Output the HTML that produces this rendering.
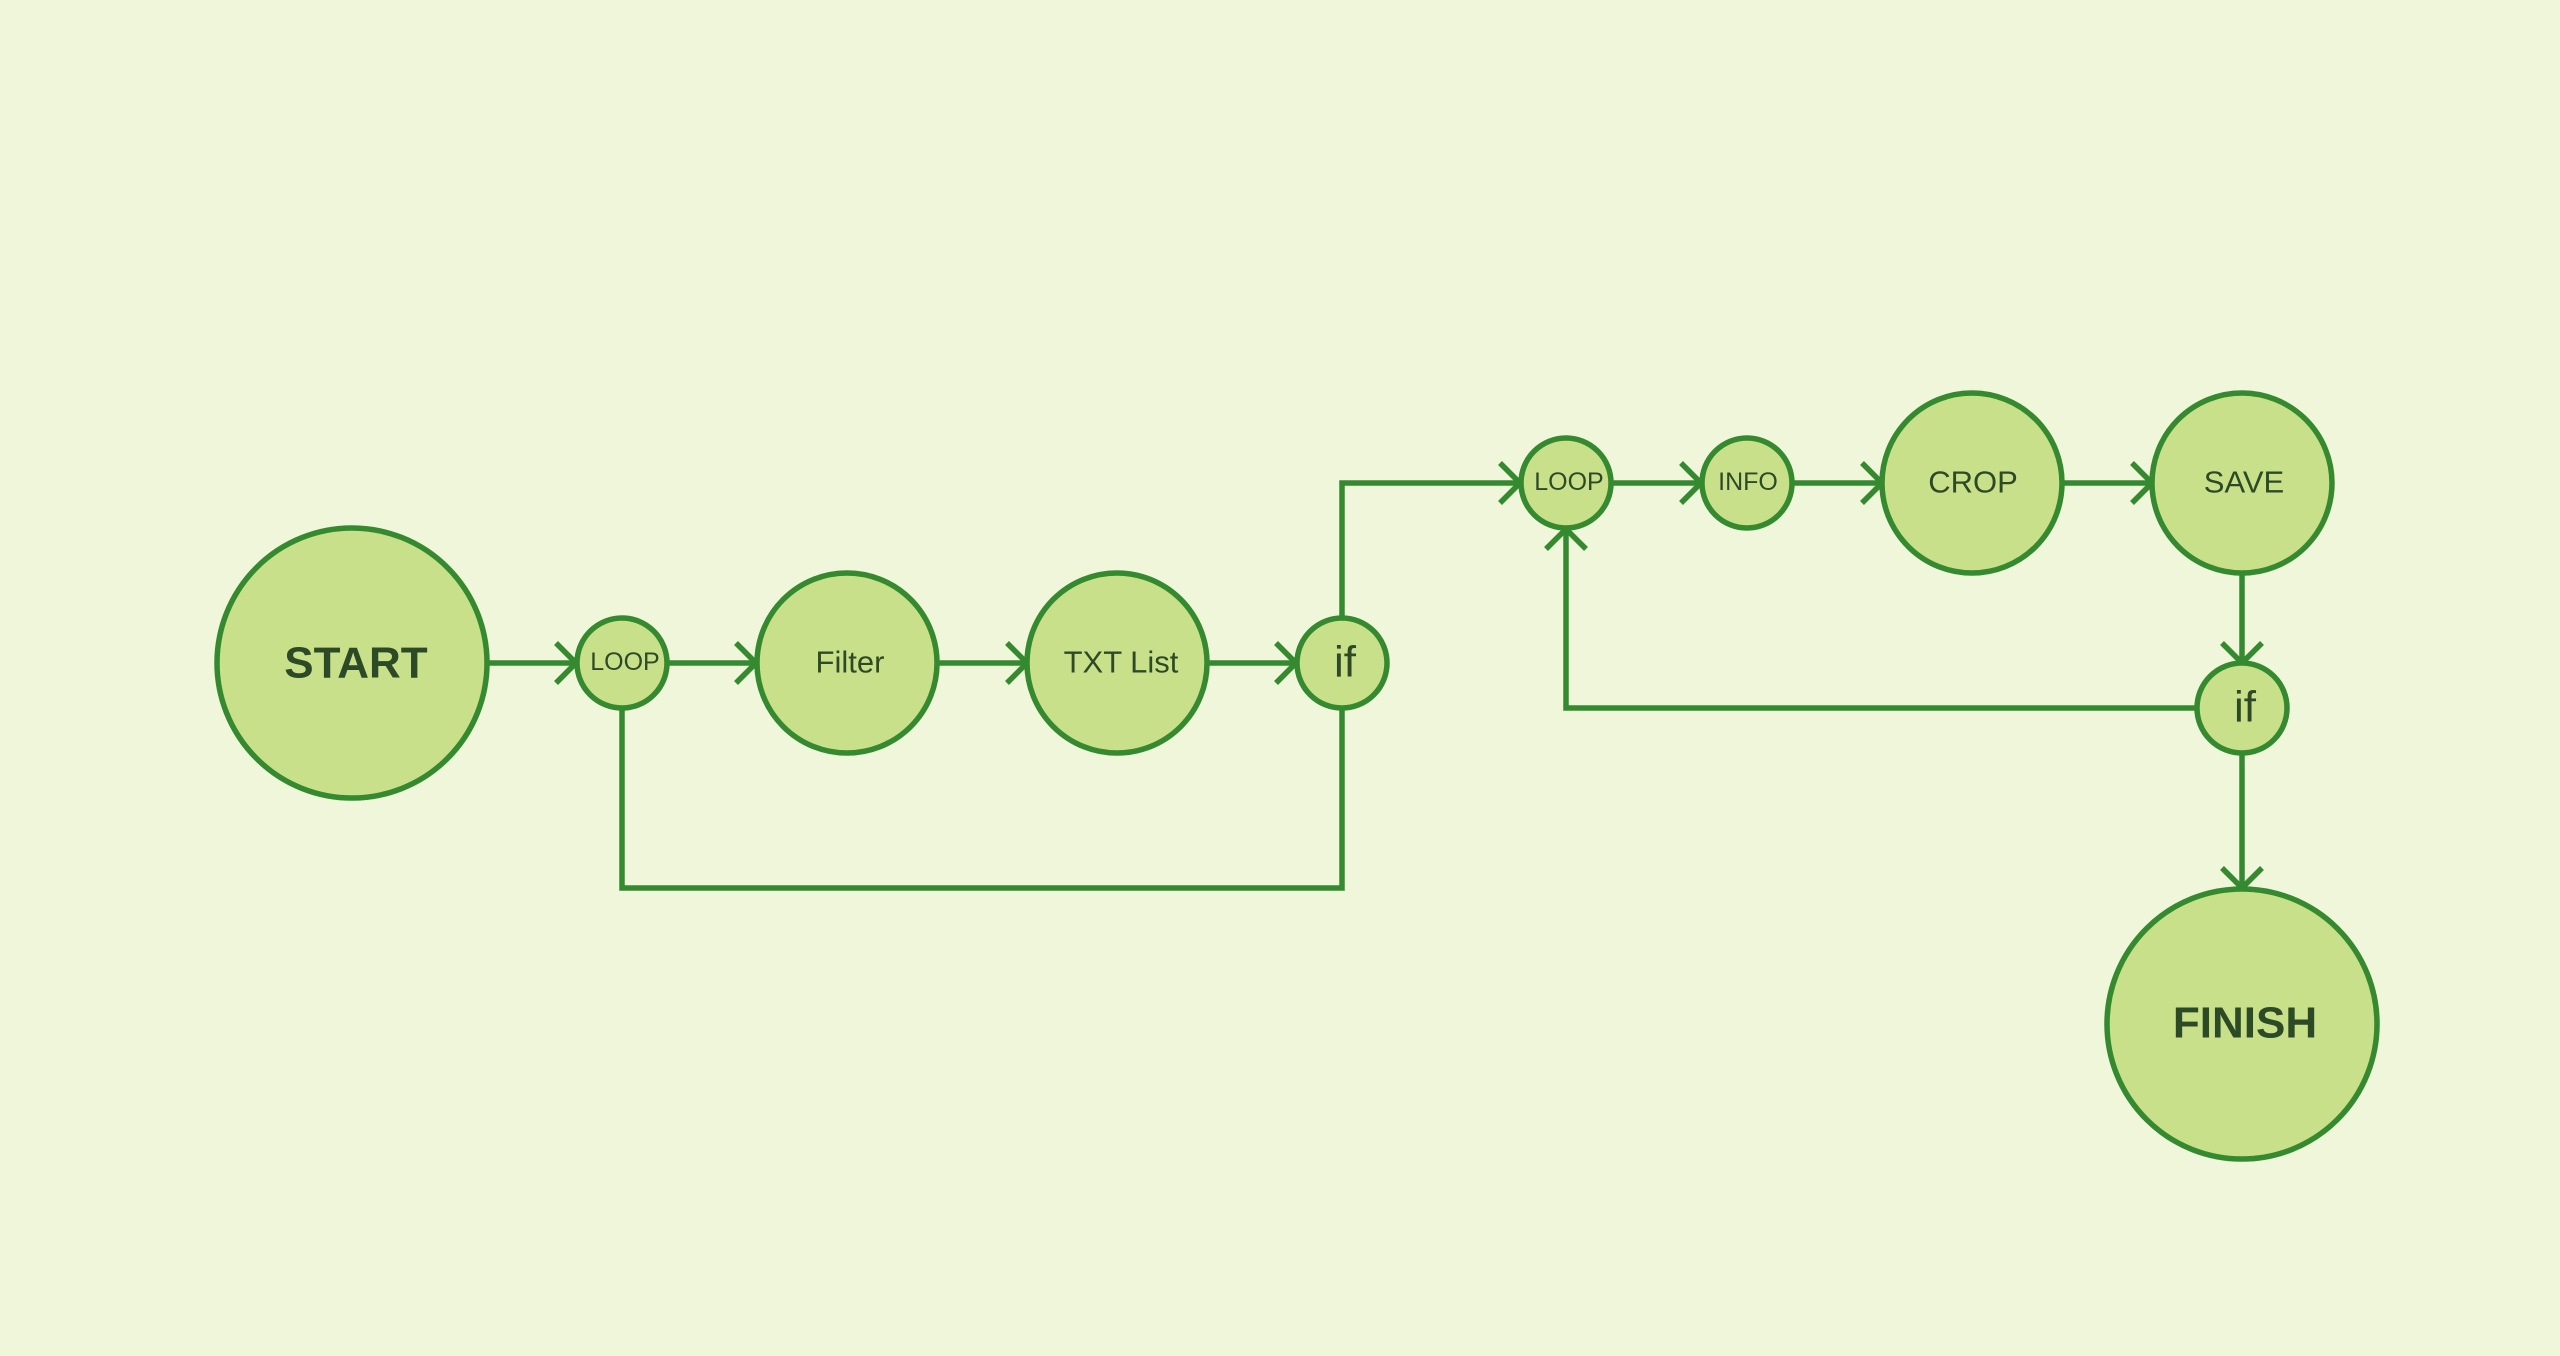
<!DOCTYPE html>
<html><head><meta charset="utf-8"><style>
html,body{margin:0;padding:0;background:#eff6da;}
svg{display:block}
text{font-family:"Liberation Sans",sans-serif;fill:#2d4a26;text-anchor:middle;dominant-baseline:central}
</style></head><body>
<svg width="2560" height="1356" viewBox="0 0 2560 1356" xmlns="http://www.w3.org/2000/svg">
<rect width="2560" height="1356" fill="#eff6da"/>
<defs>
<marker id="a" markerUnits="userSpaceOnUse" markerWidth="40" markerHeight="50" refX="24" refY="22" orient="auto">
<path d="M4,2 L24,22 L4,42" fill="none" stroke="#358a30" stroke-width="5.5"/>
</marker>
</defs>
<g fill="none" stroke="#358a30" stroke-width="5.5">
<line x1="488" y1="663" x2="576" y2="663" marker-end="url(#a)"/>
<line x1="668" y1="663" x2="756" y2="663" marker-end="url(#a)"/>
<line x1="938" y1="663" x2="1027" y2="663" marker-end="url(#a)"/>
<line x1="1207" y1="663" x2="1296" y2="663" marker-end="url(#a)"/>
<polyline points="622,709 622,888 1342,888 1342,709"/>
<polyline points="1342,617 1342,483 1520,483" marker-end="url(#a)"/>
<line x1="1612" y1="483" x2="1701" y2="483" marker-end="url(#a)"/>
<line x1="1793" y1="483" x2="1882" y2="483" marker-end="url(#a)"/>
<line x1="2062" y1="483" x2="2152" y2="483" marker-end="url(#a)"/>
<line x1="2242" y1="573" x2="2242" y2="663" marker-end="url(#a)"/>
<polyline points="2196,708 1566,708 1566,529" marker-end="url(#a)"/>
<line x1="2242" y1="754" x2="2242" y2="888" marker-end="url(#a)"/>
</g>
<g fill="#c9e08b" stroke="#358a30" stroke-width="5.5">
<circle cx="352" cy="663" r="135"/>
<circle cx="622" cy="663" r="45"/>
<circle cx="847" cy="663" r="90"/>
<circle cx="1117" cy="663" r="90"/>
<circle cx="1342" cy="663" r="45"/>
<circle cx="1566" cy="483" r="45"/>
<circle cx="1747" cy="483" r="45"/>
<circle cx="1972" cy="483" r="90"/>
<circle cx="2242" cy="483" r="90"/>
<circle cx="2242" cy="708" r="45"/>
<circle cx="2242" cy="1024" r="135"/>
</g>
<text x="356" y="663" font-size="44" font-weight="bold">START</text>
<text x="625" y="662" font-size="25">LOOP</text>
<text x="850" y="662" font-size="31">Filter</text>
<text x="1121" y="662" font-size="31">TXT List</text>
<text x="1345" y="662" font-size="44">if</text>
<text x="1569" y="482" font-size="25">LOOP</text>
<text x="1748" y="482" font-size="25">INFO</text>
<text x="1973" y="482" font-size="31">CROP</text>
<text x="2244" y="482" font-size="31">SAVE</text>
<text x="2245" y="707" font-size="44">if</text>
<text x="2245" y="1023" font-size="44" font-weight="bold">FINISH</text>
</svg>
</body></html>
